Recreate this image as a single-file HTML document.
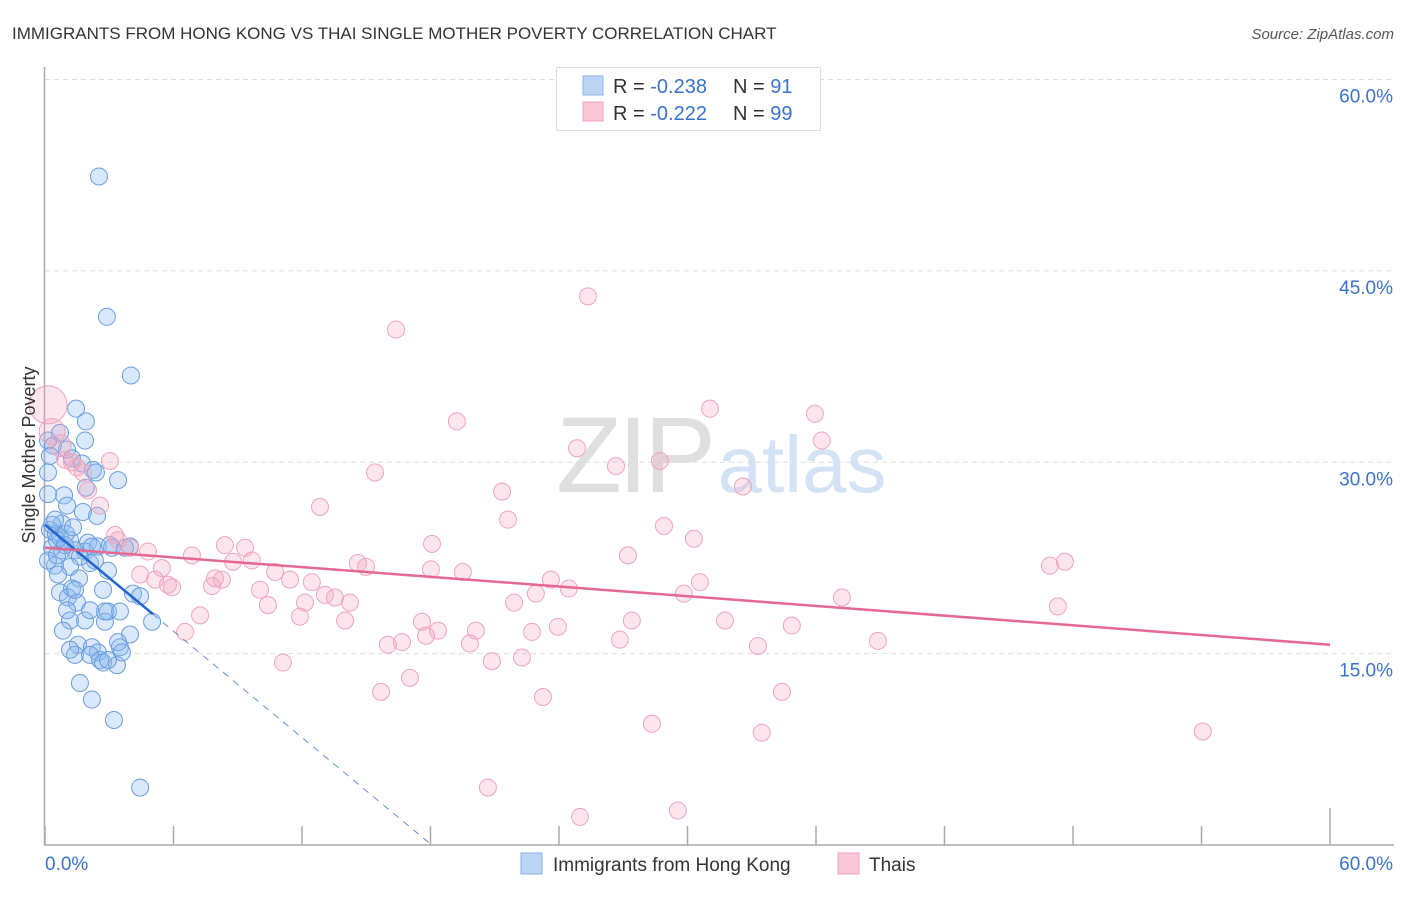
<!DOCTYPE html>
<html><head><meta charset="utf-8"><style>
body{margin:0;background:#fff;font-family:"Liberation Sans",sans-serif;}
svg text{font-family:"Liberation Sans",sans-serif;}
</style></head><body>
<svg id="chart" width="1406" height="892">
<text x="12" y="39" font-size="17" fill="#333">IMMIGRANTS FROM HONG KONG VS THAI SINGLE MOTHER POVERTY CORRELATION CHART</text>
<text x="1394" y="39" font-size="15" fill="#555" font-style="italic" text-anchor="end">Source: ZipAtlas.com</text>
<g opacity="0.9">
<text x="634" y="492" font-size="108" font-family="Liberation Serif,serif" fill="#dcdcdc" text-anchor="middle" letter-spacing="-4">ZIP</text>
<text x="802" y="492" font-size="80" fill="#cfe0f4" text-anchor="middle">atlas</text>
</g>
<g id="grid"></g>
<g id="axes"></g>
<g id="marks"></g>
<text transform="translate(35,455) rotate(-90)" font-size="18" fill="#333" text-anchor="middle">Single Mother Poverty</text>
<g>
<rect x="556.5" y="67.5" width="264" height="63" fill="#fff" stroke="#ddd"/>
<rect x="583" y="76" width="20" height="19" fill="#bcd5f5" stroke="#8ab2e8"/>
<rect x="583" y="102" width="20" height="19" fill="#fac8d6" stroke="#f0a0b8"/>
<text x="613" y="93" font-size="20" fill="#333">R = <tspan fill="#3a72d0">-0.238</tspan></text>
<text x="733" y="93" font-size="20" fill="#333">N = <tspan fill="#3a72d0"> 91</tspan></text>
<text x="613" y="120" font-size="20" fill="#333">R = <tspan fill="#3a72d0">-0.222</tspan></text>
<text x="733" y="120" font-size="20" fill="#333">N = <tspan fill="#3a72d0">99</tspan></text>
</g>
<g>
<rect x="521" y="853" width="21" height="21" fill="#bcd5f5" stroke="#8ab2e8"/>
<text x="553" y="871" font-size="19" fill="#333">Immigrants from Hong Kong</text>
<rect x="838" y="853" width="21" height="21" fill="#fac8d6" stroke="#f0a0b8"/>
<text x="869" y="871" font-size="19" fill="#333">Thais</text>
</g>
</svg>
<script>
const yTicks=[15,30,45,60];
const yTickLabels=["15.0%","30.0%","45.0%","60.0%"];
const xTicks=[0,6,12,18,24,30,36,42,48,54,60];
const blueX=[2.52,2.89,4.01,1.45,1.91,0.14,0.37,1.03,1.26,1.73,2.24,2.38,3.41,1.91,0.89,0.14,1.03,1.77,2.43,0.79,0.23,0.51,0.70,1.17,2.01,2.47,3.13,3.97,0.33,0.79,1.40,1.87,2.19,0.47,1.17,2.10,2.94,0.61,1.59,0.70,1.26,2.71,1.07,1.49,4.11,1.03,2.94,3.50,1.17,1.87,2.80,5.00,0.84,3.97,1.54,2.19,2.47,3.50,1.40,2.10,2.57,2.71,3.36,1.63,2.19,3.22,4.44,0.33,0.56,0.93,0.14,1.63,2.33,3.73,0.56,1.40,4.44,2.80,3.41,3.59,2.94,1.17,1.87,0.70,0.23,0.14,0.47,0.98,1.31,3.03,2.10];
const blueY=[52.4,41.4,36.8,34.2,33.2,31.7,31.3,31.0,30.3,29.9,29.4,29.2,28.6,28.0,27.4,27.5,26.6,26.1,25.8,25.2,24.7,24.4,24.1,23.9,23.7,23.4,23.3,23.4,23.3,23.1,23.1,23.0,23.4,21.9,21.8,22.1,21.5,21.2,20.9,19.8,20.1,20.0,19.4,19.0,19.7,18.4,18.3,18.3,17.6,17.6,17.5,17.5,16.8,16.5,15.7,15.5,15.1,15.5,14.9,14.9,14.5,14.3,14.1,12.7,11.4,9.8,4.5,25.1,23.9,23.5,22.3,22.6,22.3,23.3,22.7,20.0,19.5,18.3,15.9,15.1,14.5,15.3,31.7,32.3,30.5,29.2,25.5,24.4,24.9,23.5,18.4];
const pinkX=[0.14,0.33,0.70,1.26,0.93,1.49,1.77,2.01,3.03,2.57,3.27,3.41,3.97,4.81,5.46,4.44,5.14,5.93,5.74,6.86,7.80,7.94,8.26,6.54,7.24,8.78,9.34,9.66,10.04,10.41,10.74,11.44,12.14,11.90,12.46,12.84,13.07,13.54,14.01,14.24,14.61,14.99,15.41,15.69,16.01,16.39,16.67,17.04,17.60,17.79,18.07,18.35,18.02,19.23,19.51,19.84,20.12,20.68,20.87,21.34,21.62,21.90,22.27,22.74,22.92,23.25,23.62,23.95,24.46,24.84,24.98,25.35,26.84,27.22,27.40,26.66,28.34,28.71,28.90,29.55,29.83,30.30,30.58,31.05,31.75,32.59,33.29,33.47,34.41,34.87,35.95,36.27,37.21,38.89,46.92,47.29,47.62,54.06,11.11,8.40];
const pinkY=[34.5,32.4,31.3,30.0,30.2,29.6,29.2,27.8,30.1,26.6,24.3,23.9,23.3,23.0,21.7,21.2,20.8,20.2,20.4,22.7,20.3,20.9,20.8,16.7,18.0,22.2,23.3,22.3,20.0,18.8,21.4,20.8,19.0,17.9,20.6,26.5,19.6,19.4,17.6,19.0,22.1,21.8,29.2,12.0,15.7,40.4,15.9,13.1,17.5,16.4,23.6,16.8,21.6,33.2,21.4,15.8,16.8,4.5,14.4,27.7,25.5,19.0,14.7,16.7,19.7,11.6,20.8,17.1,20.1,31.1,2.2,43.0,16.1,22.7,17.6,29.7,9.5,30.1,25.0,2.7,19.7,24.0,20.6,34.2,17.6,28.1,15.6,8.8,12.0,17.2,33.8,31.7,19.4,16.0,21.9,18.7,22.2,8.9,14.3,23.5];
const pinkSize=[19,13,11];
const blueTrend=[25.1,-1.39];
const pinkTrend=[23.3,-0.1267];
const blueSolidEnd=5.04;

const NS="http://www.w3.org/2000/svg";
const xs=v=>45+v*(1285/60);
const ys=v=>845-v*(765.5/60);
function mk(tag,attrs,parent){const e=document.createElementNS(NS,tag);for(const k in attrs)e.setAttribute(k,attrs[k]);parent.appendChild(e);return e;}
const grid=document.getElementById('grid'),axes=document.getElementById('axes'),marks=document.getElementById('marks');
yTicks.forEach((t,i)=>{
  const l=mk('line',{x1:45,x2:1394,y1:ys(t),y2:ys(t),stroke:'#ddd','stroke-dasharray':'5,4'},grid);
  
  
  const tx=mk('text',{x:1393,y:ys(t)+23,'font-size':19,fill:'#3a72d0','text-anchor':'end'},axes);
  tx.textContent=yTickLabels[i];
  
  
});
const ya=mk('line',{x1:44.5,x2:44.5,y1:67,y2:845,stroke:'#aaa','stroke-width':1.5},axes);


const xa=mk('line',{x1:44,x2:1394,y1:845,y2:845,stroke:'#aaa','stroke-width':1.5},axes);


xTicks.forEach((t,i)=>{
  const last=i===xTicks.length-1;
  const tk=mk('line',{x1:xs(t),x2:xs(t),y1:last?808:826,y2:845,stroke:'#aaa','stroke-width':1.5},axes);
  
  
});
[[0,"0.0%",'start',45],[60,"60.0%",'end',1393]].forEach(a=>{
  const tx=mk('text',{x:a[3],y:870,'font-size':19,fill:'#3a72d0','text-anchor':a[2]},axes);
  tx.textContent=a[1];
  
  
});
blueX.forEach((x,i)=>{
  const c=mk('circle',{cx:xs(x),cy:ys(blueY[i]),r:8.5,fill:'rgba(140,185,240,0.33)',stroke:'#6a9de0','stroke-width':1},marks);
  
  
});
pinkX.forEach((x,i)=>{
  const c=mk('circle',{cx:xs(x),cy:ys(pinkY[i]),r:pinkSize[i]||8.5,fill:'rgba(245,160,185,0.28)',stroke:'#eea5bc','stroke-width':1},marks);
  
  
});
const bz=-blueTrend[0]/blueTrend[1];
const bd=mk('line',{x1:xs(blueSolidEnd),y1:ys(blueTrend[0]+blueTrend[1]*blueSolidEnd),x2:xs(bz),y2:ys(0),stroke:'#6a8fd0','stroke-width':1,'stroke-dasharray':'7,6'},marks);


const bl=mk('line',{x1:xs(0),y1:ys(blueTrend[0]),x2:xs(blueSolidEnd),y2:ys(blueTrend[0]+blueTrend[1]*blueSolidEnd),stroke:'#2166d0','stroke-width':2.5},marks);


const pl=mk('line',{x1:xs(0),y1:ys(pinkTrend[0]),x2:xs(60),y2:ys(pinkTrend[0]+pinkTrend[1]*60),stroke:'#e4688f','stroke-width':2.5},marks);


</script>
</body></html>
